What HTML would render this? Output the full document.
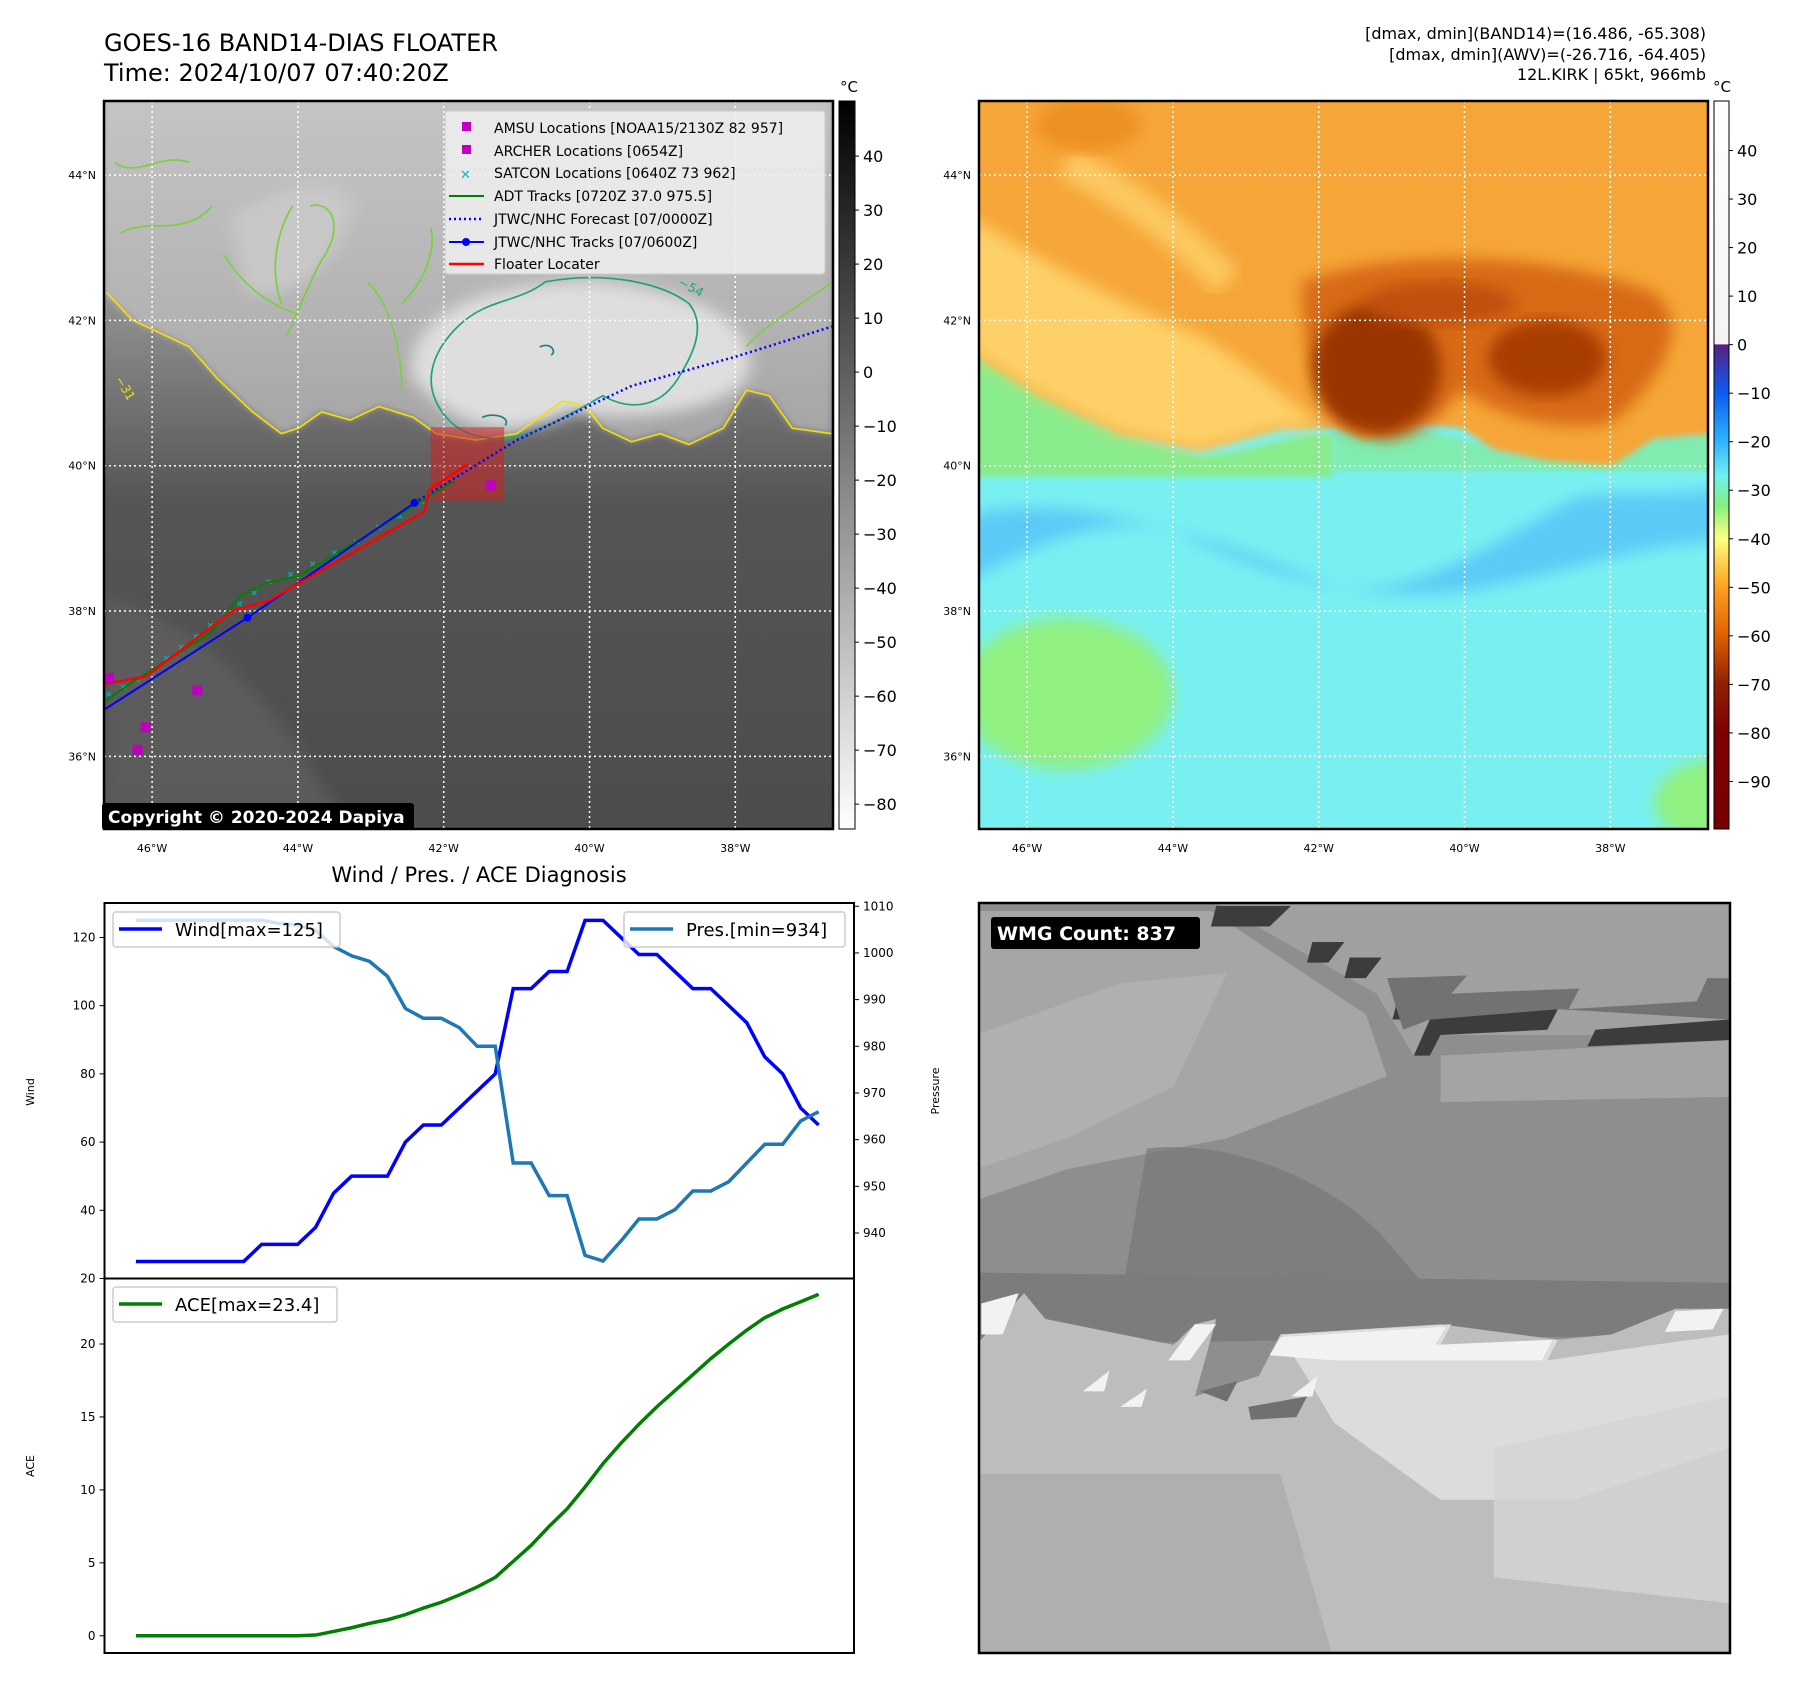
<!DOCTYPE html>
<html><head><meta charset="utf-8"><style>
html,body{margin:0;padding:0;background:#fff}
svg{display:block;font-family:"DejaVu Sans","Liberation Sans",sans-serif}
</style></head><body>
<svg id="root" width="1797" height="1690" viewBox="0 0 1797 1690" xmlns="http://www.w3.org/2000/svg">
<defs>
<linearGradient id="cbGray" x1="0" y1="0" x2="0" y2="1"><stop offset="0" stop-color="#000"/><stop offset="1" stop-color="#fff"/></linearGradient>
<linearGradient id="cbColor" x1="0" y1="0" x2="0" y2="1">
<stop offset="0" stop-color="#fff"/><stop offset="0.334" stop-color="#f4f4f4"/>
<stop offset="0.3347" stop-color="#5a1e82"/><stop offset="0.401" stop-color="#0a5cf0"/>
<stop offset="0.468" stop-color="#30b4ff"/><stop offset="0.515" stop-color="#70f0f0"/>
<stop offset="0.555" stop-color="#80f080"/><stop offset="0.601" stop-color="#ffff80"/>
<stop offset="0.668" stop-color="#ffa020"/><stop offset="0.735" stop-color="#e06000"/>
<stop offset="0.801" stop-color="#902000"/><stop offset="0.868" stop-color="#800000"/><stop offset="1" stop-color="#780000"/>
</linearGradient>
<linearGradient id="cloudG" x1="0" y1="0" x2="0" y2="1"><stop offset="0" stop-color="#c4c4c4"/><stop offset="0.6" stop-color="#b4b4b4"/><stop offset="1" stop-color="#a4a4a4"/></linearGradient>
<linearGradient id="seaG" x1="0" y1="0" x2="0" y2="1"><stop offset="0" stop-color="#a0a0a0"/><stop offset="0.3" stop-color="#8c8c8c"/><stop offset="0.5" stop-color="#606060"/><stop offset="0.55" stop-color="#555"/><stop offset="1" stop-color="#4c4c4c"/></linearGradient>
<clipPath id="clip1"><rect x="104" y="101" width="729" height="728"/></clipPath>
<clipPath id="clip2"><rect x="979" y="101" width="729" height="728"/></clipPath>
<clipPath id="clip3"><rect x="979" y="903" width="751" height="750"/></clipPath>
<filter id="blur6"><feGaussianBlur stdDeviation="6"/></filter>
<filter id="blur14"><feGaussianBlur stdDeviation="14"/></filter>
</defs>

<text x="104" y="51" font-size="24">GOES-16 BAND14-DIAS FLOATER</text>
<text x="104" y="81" font-size="24">Time: 2024/10/07 07:40:20Z</text>
<g font-size="16" text-anchor="end">
<text x="1706" y="39">[dmax, dmin](BAND14)=(16.486, -65.308)</text>
<text x="1706" y="60">[dmax, dmin](AWV)=(-26.716, -64.405)</text>
<text x="1706" y="80">12L.KIRK | 65kt, 966mb</text>
</g>

<g clip-path="url(#clip1)">
<rect x="104" y="101" width="729" height="728" fill="url(#seaG)"/>
<g transform="scale(0.5741,0.5420)">
<path d="M180,1100 C350,1150 500,1300 600,1530 L180,1530 Z" fill="#626262" opacity="0.7" filter="url(#blur14)"/>
<path d="M180,180 L1450,180 L1450,800 L1380,790 L1340,730 L1300,720 L1260,790 L1200,820 L1150,800 L1100,815 L1050,790 L1020,750 L980,740 L940,770 L900,800 L830,812 L760,800 L720,770 L660,750 L610,775 L560,760 L520,790 L490,800 L440,760 L380,700 L330,640 L230,590 L180,540 Z" fill="url(#cloudG)" filter="url(#blur6)"/>
<path d="M720,700 C700,620 780,560 860,540 C950,520 1050,510 1150,540 C1250,560 1330,620 1300,700 C1250,760 1100,780 1000,760 C900,810 800,800 720,700 Z" fill="#dedede" filter="url(#blur14)"/>
<path d="M400,400 C500,350 560,300 620,380 C580,500 500,560 430,540 Z" fill="#c8c8c8" filter="url(#blur14)"/>
<path d="M186,540 L230,590 L330,640 L380,700 L440,760 L490,800 L520,790 L560,760 L610,775 L660,750 L720,770 L760,800 L830,812 L900,800 L940,770 L980,740 L1020,750 L1050,790 L1100,815 L1150,800 L1200,820 L1260,790 L1300,720 L1340,730 L1380,790 L1448,800" fill="none" stroke="#f4e000" stroke-width="3"/>
<path d="M540,380 C580,370 600,420 560,480 C530,540 510,600 500,620 M510,380 C480,430 470,500 490,560 M210,430 C260,400 320,440 370,380 M640,520 C680,560 700,650 700,720 M1450,520 C1400,560 1330,600 1300,640 M200,300 C240,330 280,280 330,300 M390,470 C420,520 460,560 520,580 M700,560 C740,520 760,460 750,420" fill="none" stroke="#7ad040" stroke-width="3"/>
<path d="M770,760 C730,700 760,640 800,600 C850,550 900,560 950,520 C1050,500 1150,520 1200,560 C1230,600 1210,650 1180,700 C1150,750 1100,760 1050,730 C1000,760 940,800 880,810 C820,810 790,790 770,760 Z" fill="none" stroke="#20a080" stroke-width="3"/>
<path d="M940,640 C960,630 970,650 960,655 M840,770 C860,760 890,770 880,785" fill="none" stroke="#208080" stroke-width="3"/>
<text x="1180" y="525" font-size="22" fill="#20a080" transform="rotate(30 1180 525)">−54</text>
<text x="200" y="700" font-size="22" fill="#f4e000" transform="rotate(60 200 700)">−31</text>
</g>
</g>
<g id="map1grid"></g>
<g id="map1marks" clip-path="url(#clip1)"></g>
<rect x="104" y="101" width="729" height="728" fill="none" stroke="#000" stroke-width="2.5"/>
<g id="map1ticks" font-size="11"></g>

<g>
<rect x="445" y="111" width="380" height="163" rx="3" fill="#f0f0f0" fill-opacity="0.85" stroke="#ccc"/>
<g font-size="14">
<rect x="462" y="122" width="9" height="9" fill="#c000c0"/><text x="494" y="133">AMSU Locations [NOAA15/2130Z 82 957]</text>
<rect x="462" y="145" width="9" height="9" fill="#c000c0"/><text x="494" y="156">ARCHER Locations [0654Z]</text>
<text x="460" y="179" fill="#00c0c0" font-size="13" font-weight="bold">✕</text><text x="494" y="178">SATCON Locations [0640Z 73 962]</text>
<line x1="449" y1="196" x2="484" y2="196" stroke="#008000" stroke-width="2"/><text x="494" y="201">ADT Tracks [0720Z 37.0 975.5]</text>
<line x1="449" y1="219" x2="484" y2="219" stroke="#0000ff" stroke-width="2.5" stroke-dasharray="2,3"/><text x="494" y="224">JTWC/NHC Forecast [07/0000Z]</text>
<line x1="449" y1="242" x2="484" y2="242" stroke="#0000ff" stroke-width="2"/><circle cx="466" cy="242" r="4" fill="#0000ff"/><text x="494" y="247">JTWC/NHC Tracks [07/0600Z]</text>
<line x1="449" y1="264" x2="484" y2="264" stroke="#ff0000" stroke-width="2.5"/><text x="494" y="269">Floater Locater</text>
</g></g>
<rect x="102" y="803" width="312" height="27" rx="3" fill="#000"/>
<text x="108" y="823" font-size="17" font-weight="bold" fill="#fff">Copyright © 2020-2024 Dapiya</text>

<rect x="839" y="101" width="16" height="728" fill="url(#cbGray)" stroke="#000" stroke-width="1"/>
<text x="849" y="92" font-size="15" text-anchor="middle">°C</text>
<g id="cb1ticks" font-size="16"></g>

<g clip-path="url(#clip2)">
<g transform="translate(960,0) scale(0.5339,0.5420)">
<rect x="0" y="150" width="1450" height="1420" fill="#78f0f2"/>
<path d="M20,950 C200,900 500,1000 700,1080 C850,1110 1000,1000 1150,920 C1250,900 1350,920 1420,900 L1420,1000 C1300,1000 1150,1050 1000,1080 C800,1120 600,1080 400,980 C250,940 100,1030 20,1070 Z" fill="#5ccaf6" filter="url(#blur14)"/>
<ellipse cx="200" cy="1280" rx="200" ry="140" fill="#90f080" filter="url(#blur14)"/>
<ellipse cx="1420" cy="1480" rx="120" ry="80" fill="#90f080" filter="url(#blur14)"/>
<path d="M20,620 C150,740 300,810 450,840 C550,840 600,800 700,800 L700,880 L20,880 Z" fill="#88ec8c" filter="url(#blur6)"/>
<path d="M700,800 C800,780 900,790 1000,830 C1100,850 1220,860 1300,810 L1420,800 L1420,870 L700,870 Z" fill="#80ecb0" filter="url(#blur6)"/>
<path d="M20,150 L1420,150 L1420,800 L1300,810 L1220,860 L1100,850 L1000,830 L940,790 L850,780 L760,810 L700,790 L600,790 L450,830 L300,800 L150,730 L20,650 Z" fill="#f6a638" filter="url(#blur6)"/>
<path d="M20,400 C150,480 300,560 450,620 C550,680 620,740 680,790 L600,790 L450,830 L300,800 L150,730 L20,650 Z" fill="#fdd068" filter="url(#blur14)"/>
<path d="M200,300 C300,350 400,420 500,520" stroke="#fcc860" stroke-width="60" fill="none" filter="url(#blur14)"/>
<ellipse cx="240" cy="230" rx="100" ry="50" fill="#ee9020" filter="url(#blur14)"/>
<path d="M640,520 C800,460 1100,460 1300,540 C1380,600 1300,720 1220,780 C1100,800 1000,760 940,720 C900,760 880,800 800,810 C700,800 640,700 640,520 Z" fill="#d86a14" filter="url(#blur14)"/>
<ellipse cx="780" cy="680" rx="120" ry="120" fill="#9a3400" filter="url(#blur14)"/>
<ellipse cx="1100" cy="660" rx="110" ry="70" fill="#a83c04" filter="url(#blur14)"/>
<ellipse cx="900" cy="560" rx="140" ry="40" fill="#c05008" filter="url(#blur14)"/>
</g>
</g>
<g id="map2grid"></g>
<rect x="979" y="101" width="729" height="728" fill="none" stroke="#000" stroke-width="2.5"/>
<g id="map2ticks" font-size="11"></g>
<rect x="1714" y="101" width="15" height="728" fill="url(#cbColor)" stroke="#000" stroke-width="1"/>
<text x="1722" y="92" font-size="15" text-anchor="middle">°C</text>
<g id="cb2ticks" font-size="16"></g>

<g clip-path="url(#clip3)">
<g transform="translate(960,880) scale(0.5339,0.5165)">
<rect x="30" y="40" width="1420" height="1470" fill="#8e8e8e"/>
<path d="M470,40 L1450,40 L1450,300 L900,300 L850,340 L780,220 Z" fill="#a0a0a0"/>
<path d="M30,60 L470,60 L600,150 L760,260 L800,380 L500,500 L200,560 L30,620 Z" fill="#a6a6a6"/>
<path d="M30,300 L300,200 L500,180 L400,400 L200,500 L30,560 Z" fill="#b0b0b0"/>
<path d="M480,50 L620,50 L580,90 L470,90 Z M660,120 L720,120 L690,160 L650,160 Z M730,150 L790,150 L760,190 L720,190 Z M820,230 L880,230 L850,270 L810,270 Z M880,270 L1120,250 L1100,290 L900,300 L880,340 L850,340 Z M1190,290 L1440,270 L1440,310 L1175,322 Z" fill="#3c3c3c"/>
<path d="M800,190 L950,185 L920,220 L1160,210 L1140,250 L1380,235 L1400,190 L1440,190 L1440,270 L1120,250 L880,270 L830,290 Z" fill="#727272"/>
<path d="M900,340 L1440,310 L1440,420 L900,430 Z" fill="#a4a4a4"/>
<path d="M350,520 C500,500 700,580 800,700 L900,820 L600,850 L300,820 Z" fill="#777" opacity="0.7"/>
<path d="M30,760 L1440,780 L1440,880 L30,900 Z" fill="#7c7c7c"/>
<path d="M30,900 L120,800 L160,850 L400,900 L440,860 L480,850 L440,1000 L560,960 L600,880 L900,860 L1120,890 L1220,880 L1340,830 L1440,830 L1440,1510 L30,1510 Z" fill="#bdbdbd"/>
<path d="M600,880 L920,860 L900,900 L1120,890 L1100,930 L1300,900 L1440,880 L1440,1100 L1150,1200 L900,1200 L700,1050 L660,980 Z" fill="#dcdcdc"/>
<path d="M580,920 L600,885 L910,865 L890,900 L1110,890 L1090,930 L700,930 Z M1340,835 L1430,830 L1410,870 L1320,875 Z M40,820 L110,800 L80,880 L40,880 Z M390,930 L440,860 L480,860 L430,930 Z M230,990 L280,950 L270,990 Z M300,1020 L350,985 L340,1020 Z M620,1000 L670,960 L660,1000 Z" fill="#f2f2f2"/>
<path d="M1000,1100 L1440,1000 L1440,1400 L1000,1350 Z" fill="#d4d4d4" opacity="0.8"/>
<path d="M30,1150 L600,1150 L700,1510 L30,1510 Z" fill="#ababab" opacity="0.8"/>
<path d="M540,1020 L650,1000 L630,1040 L545,1045 Z M450,990 L520,970 L500,1010 Z" fill="#707070"/>
</g>
</g>
<rect x="979" y="903" width="751" height="750" fill="none" stroke="#000" stroke-width="2.5"/>
<rect x="991" y="917" width="209" height="32" rx="3" fill="#000"/>
<text x="997" y="940" font-size="19" font-weight="bold" fill="#fff">WMG Count: 837</text>

<text x="479" y="882" font-size="21" text-anchor="middle">Wind / Pres. / ACE Diagnosis</text>
<g id="chart"></g>
</svg>

<script>
// ---- chart data ----
const windValues = [25,25,25,25,25,25,25,30,30,30,35,45,50,50,50,60,65,65,70,75,80,105,105,110,110,125,125,120,115,115,110,105,105,100,95,85,80,70,65];
const presValues = [1007,1007,1007,1007,1007,1007,1007,1007,1006.3,1006,1004.8,1001.4,999.4,998.2,995,988.1,986,986,984,980,980,955,955,948,948,935.2,934,938.3,943,943,945,949,949,951,955,959,959,964,966];
const aceValues = [0,0,0,0,0,0,0,0,0,0,0.05,0.3,0.55,0.85,1.1,1.45,1.9,2.3,2.8,3.35,4.0,5.1,6.2,7.5,8.7,10.2,11.8,13.2,14.5,15.7,16.8,17.9,19.0,20.0,20.95,21.8,22.4,22.9,23.4];
const windTicks = [20,40,60,80,100,120];
const presTicks = [940,950,960,970,980,990,1000,1010];
const aceTicks = [0,5,10,15,20];
// ---- map data ----
const lonTicks = [-46,-44,-42,-40,-38];
const latTicks = [36,38,40,42,44];
const cb1Ticks = [40,30,20,10,0,-10,-20,-30,-40,-50,-60,-70,-80];
const cb2Ticks = [40,30,20,10,0,-10,-20,-30,-40,-50,-60,-70,-80,-90];
const jtwcLon = [-46.8,-44.69,-42.40];
const jtwcLat = [36.55,37.91,39.49];
const jtwcDotLon = [-44.69,-42.40];
const jtwcDotLat = [37.91,39.49];
const redLon = [-46.8,-46.08,-44.9,-44.39,-42.26,-42.2,-41.67];
const redLat = [36.97,37.1,38.0,38.15,39.37,39.67,40.02];
const adtLon = [-46.8,-46.3,-45.2,-44.78,-44.39,-43.99,-42.8,-41.87];
const adtLat = [36.65,37.0,37.7,38.22,38.4,38.48,39.2,39.78];
const fcstLon = [-42.4,-41.0,-39.42,-38.0,-36.66];
const fcstLat = [39.49,40.35,41.10,41.5,41.92];
const amsuLon = [-46.59,-45.38,-46.09,-46.2,-41.35];
const amsuLat = [37.08,36.91,36.40,36.09,39.73];
const satconLon = [-46.6,-46.4,-46.2,-46.0,-45.8,-45.6,-45.4,-45.2,-45.0,-44.8,-44.6,-44.4,-44.1,-43.8,-43.5,-43.2,-42.9,-42.6,-42.3];
const satconLat = [36.85,36.95,37.05,37.15,37.35,37.5,37.65,37.8,37.95,38.1,38.25,38.4,38.5,38.65,38.8,38.95,39.15,39.3,39.5];
const floaterLon = [-42.18,-41.17];
const floaterLat = [39.52,40.53];

const NS = "http://www.w3.org/2000/svg";
function mk(parent, tag, attrs, txt){const e=document.createElementNS(NS,tag);for(const k in attrs)e.setAttribute(k,attrs[k]);if(txt!==undefined)e.textContent=txt;parent.appendChild(e);return e;}

const LON0=-46.66, LON1=-36.66, LAT0=35.0, LAT1=45.02;
function mx(lon,x0){return x0+(lon-LON0)/(LON1-LON0)*729;}
function my(lat){return 101+(LAT1-lat)/(LAT1-LAT0)*728;}

function drawGrid(gid,tid,x0){
  const g=document.getElementById(gid), t=document.getElementById(tid);
  lonTicks.forEach(l=>{
    const ln=mk(g,'line',{x1:mx(l,x0),x2:mx(l,x0),y1:101,y2:829,stroke:'#fff','stroke-width':1.5,'stroke-dasharray':'2,3'});
    
    
    const tx=mk(t,'text',{x:mx(l,x0),y:852,'text-anchor':'middle'},Math.abs(l)+'°W');
    
    
  });
  latTicks.forEach(l=>{
    const ln=mk(g,'line',{x1:x0,x2:x0+729,y1:my(l),y2:my(l),stroke:'#fff','stroke-width':1.5,'stroke-dasharray':'2,3'});
    
    
    const tx=mk(t,'text',{x:x0-8,y:my(l)+4,'text-anchor':'end'},l+'°N');
    
    
  });
}
drawGrid('map1grid','map1ticks',104);
drawGrid('map2grid','map2ticks',979);

(function(){
  const g=document.getElementById('map1marks');
  const fb=mk(g,'rect',{x:mx(floaterLon[0],104),y:my(floaterLat[1]),width:mx(floaterLon[1],104)-mx(floaterLon[0],104),height:my(floaterLat[0])-my(floaterLat[1]),fill:'#d02020','fill-opacity':0.55});
  
  
  function pl(lons,lats,attrs,name){
    const p=mk(g,'polyline',Object.assign({points:lons.map((l,i)=>mx(l,104)+','+my(lats[i])).join(' '),fill:'none'},attrs));
    
    
  }
  satconLon.forEach((l,i)=>{
    const s=mk(g,'text',{x:mx(l,104),y:my(satconLat[i])+3,'font-size':9,'font-weight':'bold',fill:'#00c0c0','text-anchor':'middle'},'✕');
    
    
  });
  pl(fcstLon,fcstLat,{stroke:'#0000ff','stroke-width':2.5,'stroke-dasharray':'2,3'},'forecast-track');
  pl(adtLon,adtLat,{stroke:'#008000','stroke-width':2},'adt-track');
  pl(jtwcLon,jtwcLat,{stroke:'#0000ff','stroke-width':2},'jtwc-track');
  jtwcDotLon.forEach((l,i)=>{
    const c=mk(g,'circle',{cx:mx(l,104),cy:my(jtwcDotLat[i]),r:4,fill:'#0000ff'});
    
    
  });
  pl(redLon,redLat,{stroke:'#ff0000','stroke-width':2.5},'floater-track');
  amsuLon.forEach((l,i)=>{
    const r=mk(g,'rect',{x:mx(l,104)-5,y:my(amsuLat[i])-5,width:10,height:10,fill:'#c000c0'});
    
    
  });
})();

function cbTicks(id,ticks,x,top,bot,vTop,vBot){
  const g=document.getElementById(id);
  ticks.forEach(v=>{
    const y=top+(vTop-v)/(vTop-vBot)*(bot-top);
    mk(g,'line',{x1:x,x2:x+4,y1:y,y2:y,stroke:'#000','stroke-width':1});
    const t=mk(g,'text',{x:x+8,y:y+6},(v<0?'−'+Math.abs(v):String(v)));
    
    
  });
}
cbTicks('cb1ticks',cb1Ticks,855,101,829,50.2,-84.6);
cbTicks('cb2ticks',cb2Ticks,1729,101,829,50.2,-99.8);

(function(){
  const g=document.getElementById('chart');
  const L=104.5,R=854,T=903,M=1278.5,B=1653;
  const xS=i=>L+(i+1.75)/(39.97+1.75)*(R-L);
  const yW=v=>M-(v-20)/(130.1-20)*(M-T);
  const yP=v=>M-(v-930.25)/(1010.7-930.25)*(M-T);
  const yA=v=>B-(v+1.18)/(24.49+1.18)*(B-M);
  mk(g,'rect',{x:L,y:T,width:R-L,height:B-T,fill:'#fff'});
  const pw=mk(g,'polyline',{points:windValues.map((v,i)=>xS(i)+','+yW(v)).join(' '),fill:'none',stroke:'#0000ff','stroke-width':3.5});
  
  
  const pp=mk(g,'polyline',{points:presValues.map((v,i)=>xS(i)+','+yP(v)).join(' '),fill:'none',stroke:'#1f77b4','stroke-width':3.5});
  
  
  const pa=mk(g,'polyline',{points:aceValues.map((v,i)=>xS(i)+','+yA(v)).join(' '),fill:'none',stroke:'#008000','stroke-width':3.5});
  
  
  mk(g,'rect',{x:L,y:T,width:R-L,height:B-T,fill:'none',stroke:'#000','stroke-width':2});
  mk(g,'line',{x1:L,x2:R,y1:M,y2:M,stroke:'#000','stroke-width':2});
  windTicks.forEach(v=>{
    mk(g,'line',{x1:L-5,x2:L,y1:yW(v),y2:yW(v),stroke:'#000'});
    const t=mk(g,'text',{x:L-9,y:yW(v)+4,'font-size':12,'text-anchor':'end'},String(v));
    
    
  });
  presTicks.forEach(v=>{
    mk(g,'line',{x1:R,x2:R+5,y1:yP(v),y2:yP(v),stroke:'#000'});
    const t=mk(g,'text',{x:R+9,y:yP(v)+4,'font-size':12},String(v));
    
    
  });
  aceTicks.forEach(v=>{
    mk(g,'line',{x1:L-5,x2:L,y1:yA(v),y2:yA(v),stroke:'#000'});
    const t=mk(g,'text',{x:L-9,y:yA(v)+4,'font-size':12,'text-anchor':'end'},String(v));
    
    
  });
  const a1=mk(g,'text',{x:34,y:1092,'font-size':11,'text-anchor':'middle',transform:'rotate(-90 34 1092)'},'Wind');
  
  
  const a2=mk(g,'text',{x:34,y:1466,'font-size':11,'text-anchor':'middle',transform:'rotate(-90 34 1466)'},'ACE');
  
  
  const a3=mk(g,'text',{x:939,y:1091,'font-size':11,'text-anchor':'middle',transform:'rotate(-90 939 1091)'},'Pressure');
  
  
  function legend(x,y,w,color,label,name){
    const lg=mk(g,'g',{});
    
    
    mk(lg,'rect',{x:x,y:y,width:w,height:35,rx:3,fill:'#fff','fill-opacity':0.8,stroke:'#ccc','stroke-width':1.5});
    mk(lg,'line',{x1:x+6,x2:x+49,y1:y+17,y2:y+17,stroke:color,'stroke-width':3.5});
    mk(lg,'text',{x:x+62,y:y+24,'font-size':18},label);
  }
  legend(113,912,227,'#0000ff','Wind[max=125]','wind-legend');
  legend(624,912,221,'#1f77b4','Pres.[min=934]','pressure-legend');
  legend(113,1287,224,'#008000','ACE[max=23.4]','ace-legend');
})();
</script>
</body></html>
